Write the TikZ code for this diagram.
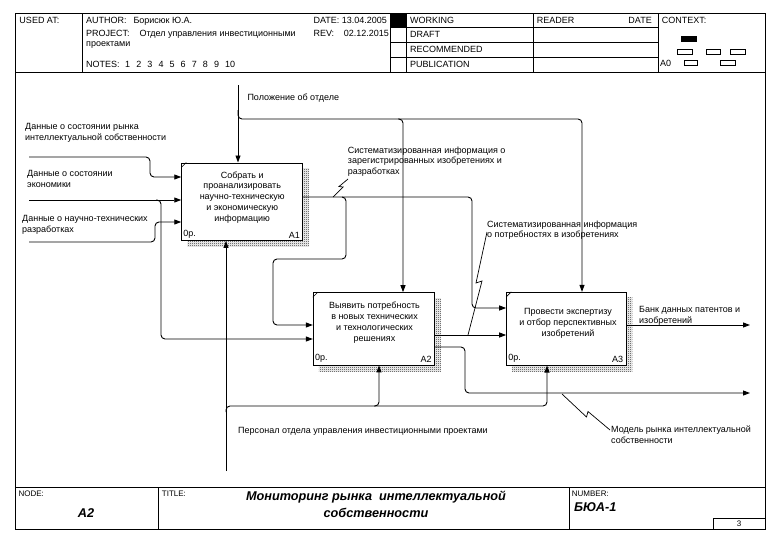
\documentclass[tikz,border=0pt]{standalone}
\usepackage{fontspec}
\setmainfont{Liberation Sans}
\usetikzlibrary{arrows.meta,patterns,backgrounds,calc}
\pgfdeclarepatternformonly{checker}{\pgfqpoint{0pt}{0pt}}{\pgfqpoint{2pt}{2pt}}{\pgfqpoint{2pt}{2pt}}{%
  \pgfpathrectangle{\pgfqpoint{0pt}{0pt}}{\pgfqpoint{1pt}{1pt}}%
  \pgfpathrectangle{\pgfqpoint{1pt}{1pt}}{\pgfqpoint{1pt}{1pt}}%
  \pgfusepath{fill}}
\begin{document}
\begin{tikzpicture}[x=1pt,y=-1pt,
  frame/.style={line width=0.9pt},
  conn/.style={line width=0.9pt, rounded corners=4pt},
  arr/.style={conn, -{Triangle[length=7pt,width=5pt]}},
  idefbox/.style={draw, line width=0.9pt, fill=white, minimum width=121pt, inner sep=0pt},
  shadowfill/.style={pattern=checker, pattern color=black!85},
  lbl/.style={font=\fontsize{9}{10.8}\selectfont, align=left, inner sep=0pt, anchor=base west},
  btxt/.style={font=\fontsize{9}{10.8}\selectfont, align=center, inner sep=0pt, anchor=base},
  hdr/.style={font=\fontsize{9}{10}\selectfont, inner sep=0pt, anchor=base west},
  ftr/.style={font=\fontsize{8}{9}\selectfont, inner sep=0pt, anchor=base west},
  big/.style={font=\fontsize{12.7}{16.7}\selectfont\bfseries\itshape, inner sep=0pt, align=center},
  squig/.style={line width=0.7pt},
]
\useasboundingbox (0,0) rectangle (781,554);

% ---------- frame ----------
\draw[frame] (15,13) rectangle (765,529);
\draw[frame] (15,72) -- (765,72);
\draw[frame] (15,487) -- (765,487);
\draw[frame] (82,13) -- (82,72);
\draw[frame] (390,13) -- (390,72);
\draw[frame] (406,13) -- (406,72);
\draw[frame] (533,13) -- (533,72);
\draw[frame] (658,13) -- (658,72);
\draw[frame] (390,27) -- (658,27);
\draw[frame] (390,42) -- (658,42);
\draw[frame] (390,57) -- (658,57);
\fill (390,13) rectangle (406,27);
\draw[frame] (158,487) -- (158,529);
\draw[frame] (569,487) -- (569,529);
\draw[frame] (713,518) rectangle (765,529);

% context miniature
\fill (681,36) rectangle (697,42);
\draw[line width=0.8pt] (677,49) rectangle (692,54);
\draw[line width=0.8pt] (706,49) rectangle (720,54);
\draw[line width=0.8pt] (730,49) rectangle (745,54);
\draw[line width=0.8pt] (684,60) rectangle (697,65);
\draw[line width=0.8pt] (720,60) rectangle (735,65);

% ---------- header text ----------
\node[hdr] (usedat) at (19.3,23.5) {USED AT:};
\node[hdr] (author) at (86,23.5) {AUTHOR:};
\node[hdr] (authorv) at (133.3,23.5) {Борисюк Ю.А.};
\node[hdr] (date) at (313.3,23.5) {DATE: 13.04.2005};
\node[hdr] (project) at (86,36.5) {PROJECT:};
\node[hdr] (projectv) at (139.3,36.5) {Отдел управления инвестиционными};
\node[hdr] (projectv2) at (86,46.5) {проектами};
\node[hdr] (rev) at (313.3,36.5) {REV:};
\node[hdr, anchor=base east] (revv) at (389,36.5) {02.12.2015};
\node[hdr] (notes) at (86,67) {NOTES:};
\foreach \i in {1,...,10} {
  \node[hdr] (note\i) at ({125+11.1*(\i-1)},67) {\i};
}
\node[hdr] (working) at (410,23.5) {WORKING};
\node[hdr] (draft) at (410,37) {DRAFT};
\node[hdr] (recommended) at (410,52) {RECOMMENDED};
\node[hdr] (publication) at (410,67) {PUBLICATION};
\node[hdr] (reader) at (536.7,23.5) {READER};
\node[hdr, anchor=base east] (rdate) at (652,23.5) {DATE};
\node[hdr] (context) at (661.7,23.5) {CONTEXT:};
\node[hdr] (a0) at (660,66.5) {A0};

% ---------- footer text ----------
\node[ftr] (nodelbl) at (18.3,496) {NODE:};
\node[big] (nodev) at (86,512.7) {A2};
\node[ftr] (titlelbl) at (161.7,496) {TITLE:};
\node[big] (title) at (376,504.3) {Мониторинг рынка \ интеллектуальной\\собственности};
\node[ftr] (numberlbl) at (571.7,496) {NUMBER:};
\node[big, anchor=base west] (numberv) at (574,511) {БЮА-1};
\node[ftr, anchor=center] (page) at (739,523.5) {3};

% ---------- activity boxes ----------
\node[idefbox, minimum height=77.5pt] (A1) at (242.2,201.7) {};
\node[idefbox, minimum height=72.3pt] (A2) at (373.8,328.8) {};
\node[idefbox, minimum height=72.7pt, minimum width=119.3pt] (A3) at (566.3,328.7) {};
\begin{scope}[on background layer]
  \foreach \b in {A1,A2,A3} {
    \fill[shadowfill] ($(\b.north west)+(6,6)$) rectangle ($(\b.south east)+(6,6)$);
  }
\end{scope}
\foreach \b in {A1,A2,A3} {
  \draw[line width=0.6pt] ([yshift=-5pt]\b.north west) -- ([xshift=5pt]\b.north west);
  \node[lbl, anchor=south west] (\b cost) at ([shift={(2pt,2.5pt)}]\b.south west) {0р.};
  \node[lbl, anchor=south east] (\b num) at ([shift={(-3pt,2.5pt)}]\b.south east) {\b};
}
% (base anchor of a multi-line node = baseline of its last line)
\node[btxt] (A1t) at (242.2,221.2) {Собрать и\\проанализировать\\научно-техническую\\и экономическую\\информацию};
\node[btxt] (A2t) at (374.5,341) {Выявить потребность\\в новых технических\\и технологических\\решениях};
\node[btxt] (A3t) at (568,336) {Провести экспертизу\\и отбор перспективных\\изобретений};

% ---------- connectors ----------
% control
\coordinate (ctl) at (238,85);
\draw[arr] (ctl) -- (ctl |- A1.north);
\draw[arr] (238,110) -- (238,119) -- (403,119) -- (403,0 |- A2.north);
\draw[arr] (398,119) -- (582,119) -- (582,0 |- A3.north);

% inputs
\coordinate (in1) at (29,157);
\draw[arr] (in1) -- (150,157) -- (150,177) -- (A1.west |- 0,177);
\coordinate (in2) at (29,200);
\draw[arr] (in2) -- (A1.west |- in2);
\draw[arr] (156,200) -- (161,200) -- (161,339) -- (A2.west |- 0,339);
\coordinate (in3) at (29,242);
\draw[arr] (in3) -- (155,242) -- (155,222) -- (A1.west |- 0,222);

% A1 outputs
\draw[arr] (A1.east |- 0,197) -- (472,197) -- (472,308) -- (A3.west |- 0,308);
\draw[arr] (342,197) -- (346,197) -- (346,259) -- (273,259) -- (273,325) -- (A2.west |- 0,325);

% A2 outputs
\draw[arr] (A2.east |- 0,335) -- (A3.west |- 0,335);
\coordinate (out2) at (750,393);
\draw[arr] (A2.east |- 0,347) -- (465,347) -- (465,393) -- (out2);

% A3 output
\coordinate (out1) at (750,325);
\draw[arr] (A3.east |- out1) -- (out1);

% mechanism
\coordinate (mech) at (226,471);
\draw[arr] (mech) -- (mech |- A1.south);
\draw[arr] (226,412) -- (226,406) -- (379,406) -- (379,0 |- A2.south);
\draw[arr] (374,406) -- (547,406) -- (547,0 |- A3.south);

% squiggles
\draw[squig] (348,179) -- (339,186.5) -- (343,187) -- (333,197);
\draw[squig] (487,232) -- (476,283) -- (482,281) -- (468,335);
\draw[squig] (562,394) -- (586.5,417) -- (588,411.5) -- (610,430);

% ---------- arrow labels ----------
\node[lbl] (Lctl) at (247.3,100) {Положение об отделе};
\node[lbl] (Lin1) at (25,140.5) {Данные о состоянии рынка\\интеллектуальной собственности};
\node[lbl] (Lin2) at (27,187.1) {Данные о состоянии\\экономики};
\node[lbl] (Lin3) at (22,232.4) {Данные о научно-технических\\разработках};
\node[lbl] (Lo1) at (347.7,174.6) {Систематизированная информация о\\зарегистрированных изобретениях и\\разработках};
\node[lbl] (Lo2) at (487,237.8) {Систематизированная информация\\о потребностях в изобретениях};
\node[lbl] (Lout1) at (639,323.1) {Банк данных патентов и\\изобретений};
\node[lbl] (Lout2) at (611,443) {Модель рынка интеллектуальной\\собственности};
\node[lbl] (Lmech) at (238,433) {Персонал отдела управления инвестиционными проектами};
\end{tikzpicture}
\end{document}
